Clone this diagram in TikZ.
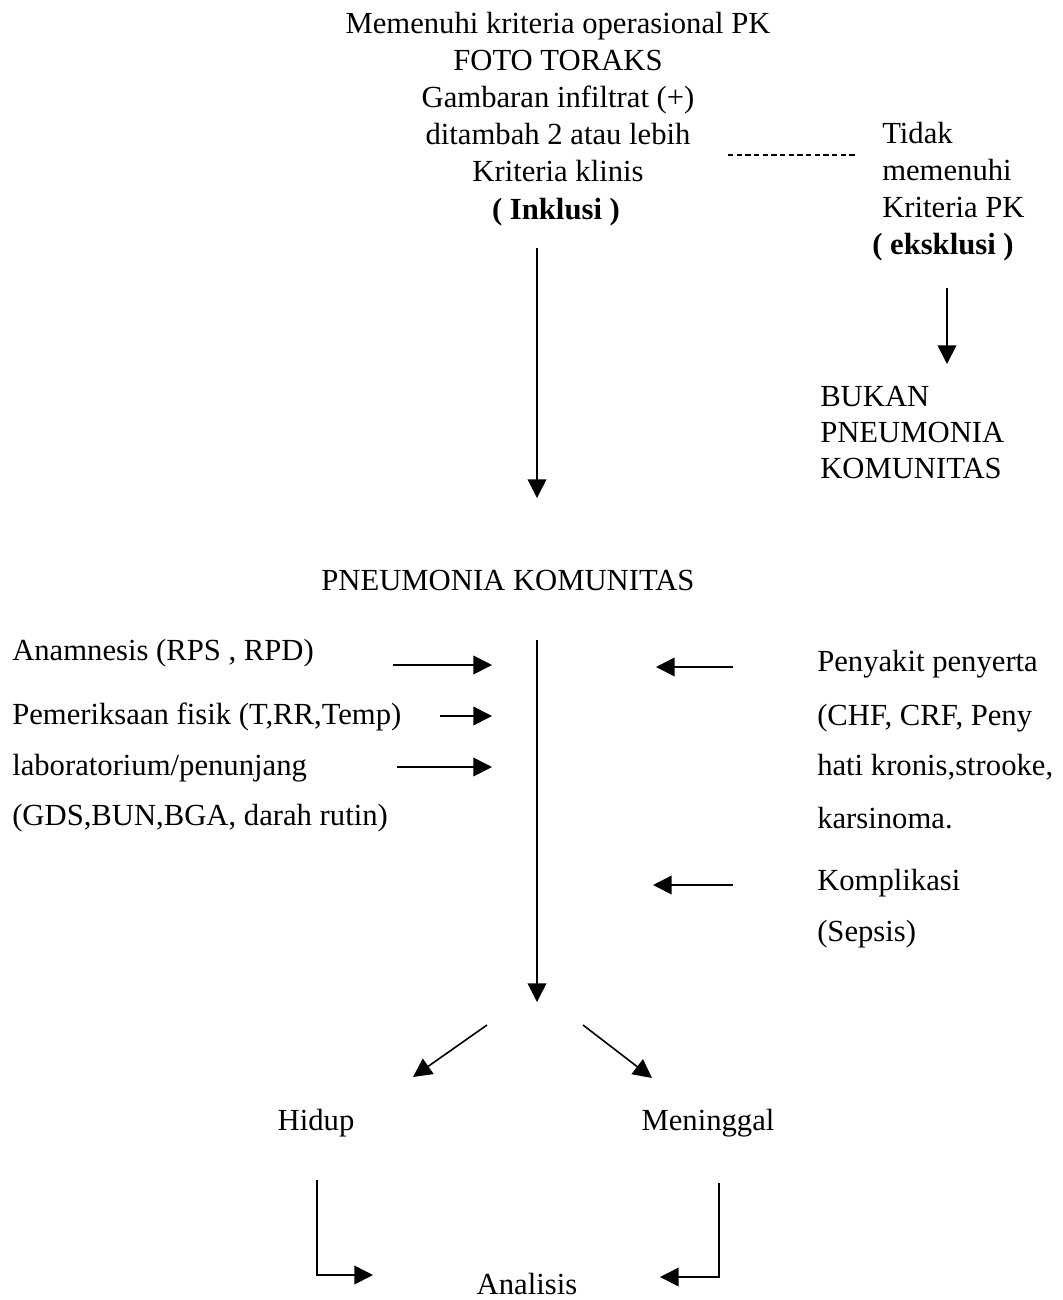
\documentclass[tikz,border=0pt]{standalone}
\usepackage{fontspec}
\setmainfont{Liberation Serif}
\usetikzlibrary{arrows.meta}
\begin{document}
\begin{tikzpicture}[x=0.75pt,y=-0.75pt,
  txt/.style={inner sep=0pt, font=\fontsize{23}{27.75}\selectfont, anchor=mid, yshift=-4pt},
  ltxt/.style={txt, anchor=mid west},
  btxt/.style={txt, font=\fontsize{23}{27.75}\selectfont\bfseries},
  conn/.style={line width=1.2pt, -{Triangle[length=14pt,width=14pt]}},
  dashline/.style={line width=0.9pt, dash pattern=on 4pt off 2.5pt}]
\useasboundingbox (0,0) rectangle (1063,1300);

% top inclusion block
\node[txt] (t1) at (558,25) {Memenuhi kriteria operasional PK};
\node[txt] (t2) at (558,62) {FOTO TORAKS};
\node[txt] (t3) at (558,99) {Gambaran infiltrat (+)};
\node[txt] (t4) at (558,136) {ditambah 2 atau lebih};
\node[txt] (t5) at (558,173) {Kriteria klinis};
\node[btxt] (t6) at (556,211) {( Inklusi )};

% exclusion block
\node[ltxt] (r1) at (882,135) {Tidak};
\node[ltxt] (r2) at (882,172) {memenuhi};
\node[ltxt] (r3) at (882,209) {Kriteria PK};
\node[btxt, anchor=mid west] (r4) at (872,246) {( eksklusi )};

\node[ltxt] (b1) at (820,398) {BUKAN};
\node[ltxt] (b2) at (820,434) {PNEUMONIA};
\node[ltxt] (b3) at (820,470) {KOMUNITAS};

% dashed link
\coordinate (d1) at (728,155);
\coordinate (d2) at (857,155);
\draw[dashline] (d1) -- (d2);

% exclusion arrow
\coordinate (e1) at (947,288);
\coordinate (e2) at (947,364);
\draw[conn] (e1) -- (e2);

% main arrow 1
\coordinate (m1) at (537,248);
\coordinate (m2) at (537,498);
\draw[conn] (m1) -- (m2);

\node[txt] (pk) at (508,582) {PNEUMONIA KOMUNITAS};

% left factors
\node[ltxt] (l1) at (12,652) {Anamnesis (RPS , RPD)};
\node[ltxt] (l2) at (12,716) {Pemeriksaan fisik (T,RR,Temp)};
\node[ltxt] (l3) at (12,767) {laboratorium/penunjang};
\node[ltxt] (l4) at (12,817) {(GDS,BUN,BGA, darah rutin)};

\coordinate (a1s) at (393,665);
\coordinate (a1e) at (492,665);
\coordinate (a2s) at (440,716);
\coordinate (a2e) at (492,716);
\coordinate (a3s) at (397,767);
\coordinate (a3e) at (492,767);
\draw[conn] (a1s) -- (a1e);
\draw[conn] (a2s) -- (a2e);
\draw[conn] (a3s) -- (a3e);

% right factors
\node[ltxt] (p1) at (817,663) {Penyakit penyerta};
\node[ltxt] (p2) at (817,717) {(CHF, CRF, Peny};
\node[ltxt] (p3) at (817,767) {hati kronis,strooke,};
\node[ltxt] (p4) at (817,820) {karsinoma.};
\node[ltxt] (p5) at (817,882) {Komplikasi};
\node[ltxt] (p6) at (817,933) {(Sepsis)};

\coordinate (b1s) at (733,667);
\coordinate (b1e) at (656,667);
\coordinate (b2s) at (733,885);
\coordinate (b2e) at (653,885);
\draw[conn] (b1s) -- (b1e);
\draw[conn] (b2s) -- (b2e);

% main arrow 2
\coordinate (n1) at (537,640);
\coordinate (n2) at (537,1002);
\draw[conn] (n1) -- (n2);

% outcomes
\coordinate (o1s) at (487,1025);
\coordinate (o1e) at (413,1077);
\coordinate (o2s) at (583,1025);
\coordinate (o2e) at (652,1078);
\draw[conn] (o1s) -- (o1e);
\draw[conn] (o2s) -- (o2e);

\node[txt] (hidup) at (316,1122) {Hidup};
\node[txt] (mati) at (708,1122) {Meninggal};

\node[txt] (an) at (527,1286) {Analisis};

\coordinate (h1) at (317,1180);
\coordinate (h2) at (317,1275);
\coordinate (h3) at (373,1275);
\draw[conn] (h1) -- (h2) -- (h3);
\coordinate (g1) at (719,1183);
\coordinate (g2) at (719,1277);
\coordinate (g3) at (660,1277);
\draw[conn] (g1) -- (g2) -- (g3);
\end{tikzpicture}
\end{document}
